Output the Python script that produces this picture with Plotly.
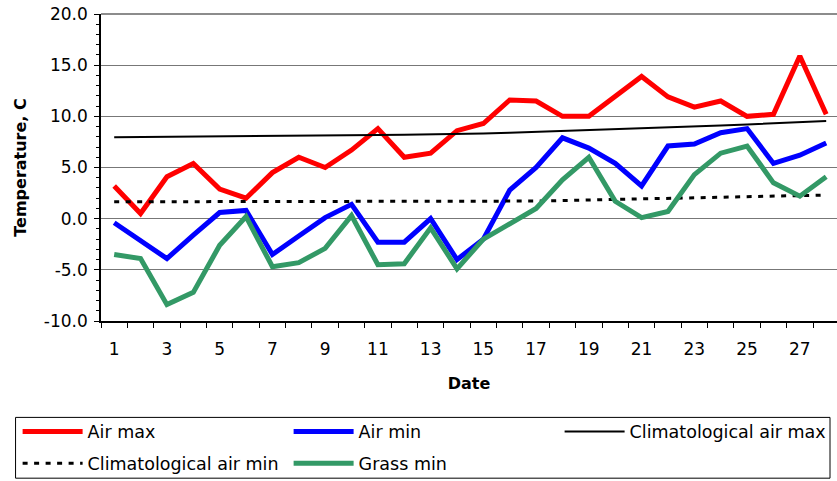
import plotly.graph_objects as go

dates = list(range(1, 29))
air_max = [3.2, 0.5, 4.1, 5.4, 2.9, 2.0, 4.5, 6.0, 5.0, 6.7, 8.8, 6.0, 6.4, 8.6,
           9.3, 11.6, 11.5, 10.0, 10.0, 11.9, 13.9, 11.9, 10.9, 11.5, 10.0, 10.2, 15.9, 10.2]
air_min = [-0.4, -2.1, -3.9, -1.6, 0.6, 0.8, -3.5, -1.7, 0.1, 1.4, -2.3, -2.3, 0.0, -4.0,
           -2.0, 2.8, 5.0, 7.9, 6.9, 5.4, 3.2, 7.1, 7.3, 8.4, 8.8, 5.4, 6.2, 7.4]
clim_max = [7.95, 7.98, 8.0, 8.03, 8.06, 8.08, 8.1, 8.12, 8.14, 8.16, 8.18, 8.2, 8.23, 8.27,
            8.33, 8.4, 8.48, 8.56, 8.65, 8.74, 8.83, 8.92, 9.01, 9.1, 9.2, 9.3, 9.42, 9.55]
clim_min = [1.65, 1.65, 1.65, 1.65, 1.65, 1.65, 1.65, 1.65, 1.65, 1.65, 1.65, 1.65, 1.65, 1.65,
            1.66, 1.68, 1.72, 1.77, 1.83, 1.88, 1.93, 1.99, 2.04, 2.09, 2.15, 2.2, 2.26, 2.31]
grass_min = [-3.5, -3.9, -8.4, -7.2, -2.6, 0.2, -4.7, -4.3, -2.9, 0.3, -4.5, -4.4, -0.9, -4.9,
             -2.0, -0.5, 1.0, 3.8, 6.0, 1.7, 0.1, 0.7, 4.3, 6.4, 7.1, 3.5, 2.2, 4.1]
x_tick_vals = list(range(1, 29, 2))
x_tick_text = [str(v) for v in x_tick_vals]
y_tick_vals = [-10, -5, 0, 5, 10, 15, 20]
y_tick_text = ["-10.0", "-5.0", "0.0", "5.0", "10.0", "15.0", "20.0"]

FONT = "DejaVu Sans"

fig = go.Figure()
fig.add_trace(go.Scatter(x=dates, y=air_max, name="Air max", mode="lines",
                         line=dict(color="#ff0000", width=5), legend="legend"))
fig.add_trace(go.Scatter(x=dates, y=air_min, name="Air min", mode="lines",
                         line=dict(color="#0000ff", width=5), legend="legend"))
fig.add_trace(go.Scatter(x=dates, y=clim_max, name="Climatological air max", mode="lines",
                         line=dict(color="#000000", width=2), legend="legend"))
fig.add_trace(go.Scatter(x=dates, y=clim_min, name="Climatological air min", mode="lines",
                         line=dict(color="#000000", width=3, dash="5px,6.5px"), legend="legend2"))
fig.add_trace(go.Scatter(x=dates, y=grass_min, name="Grass min", mode="lines",
                         line=dict(color="#339966", width=5), legend="legend2"))

leg_common = dict(orientation="h", x=-0.1133, xanchor="left", yanchor="middle",
                  font=dict(family=FONT, size=17.5, color="black"),
                  itemwidth=60, entrywidth=196, entrywidthmode="pixels",
                  borderwidth=0, bgcolor="rgba(0,0,0,0)", traceorder="normal")

fig.update_layout(
    width=837, height=481,
    margin=dict(l=101, r=0, t=14, b=160, autoexpand=False),
    paper_bgcolor="white", plot_bgcolor="white",
    font=dict(family=FONT, size=17, color="black"),
    showlegend=True,
    legend=dict(y=-0.3606, **leg_common),
    legend2=dict(y=-0.4635, **leg_common),
    xaxis=dict(
        range=[0.5, 28.41], tickmode="array", tickvals=x_tick_vals, ticktext=x_tick_text,
        ticks="", showline=True, linecolor="black", linewidth=1.5, automargin=False,
        showgrid=False, zeroline=False, ticklabelstandoff=12,
        tickfont=dict(family=FONT, size=17),
        minor=dict(tick0=0.5, dtick=1, ticks="outside", ticklen=5, tickcolor="black",
                   tickwidth=1, showgrid=False),
        title=dict(text="Date", font=dict(family=FONT, size=16, weight="bold"), standoff=20),
    ),
    yaxis=dict(
        range=[-10, 20], tickmode="array", tickvals=y_tick_vals, ticktext=y_tick_text,
        ticks="outside", ticklen=5, tickcolor="black", tickwidth=1, automargin=False,
        showline=True, linecolor="black", linewidth=1.5,
        showgrid=True, gridcolor="#777777", gridwidth=1, zeroline=False,
        ticklabelstandoff=3, tickfont=dict(family=FONT, size=17),
        minor=dict(tick0=0, dtick=1, ticks="outside", ticklen=3, tickcolor="black",
                   tickwidth=1, showgrid=False),
        title=dict(text="Temperature, C", font=dict(family=FONT, size=16, weight="bold"),
                   standoff=13),
    ),
    shapes=[
        dict(type="line", xref="paper", yref="paper", x0=0, x1=1, y0=1, y1=1,
             line=dict(color="#8c8c8c", width=2)),
        dict(type="rect", xref="paper", yref="paper", x0=-0.1161, x1=0.9905,
             y0=-0.314, y1=-0.512, line=dict(color="black", width=1)),
    ],
)

fig.write_html("out.html", config={"displayModeBar": False},
               post_script="document.body.style.margin='0';document.body.style.padding='0';")
